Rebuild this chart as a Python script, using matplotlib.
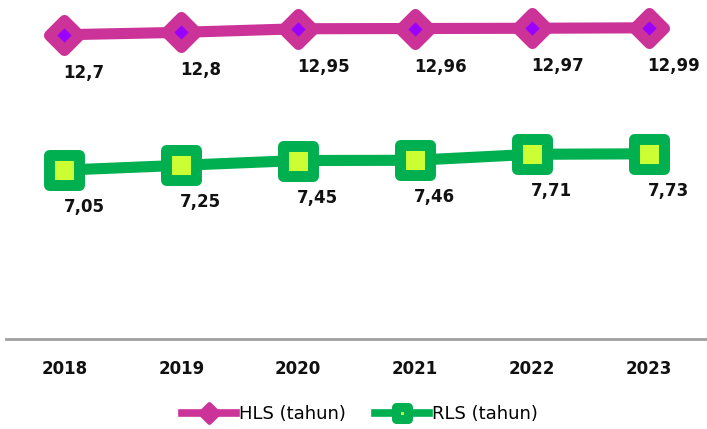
import matplotlib.pyplot as plt
from matplotlib.markers import MarkerStyle
from matplotlib.lines import Line2D

# data
years = ["2018", "2019", "2020", "2021", "2022", "2023"]
hls = [12.7, 12.8, 12.95, 12.96, 12.97, 12.99]
rls = [7.05, 7.25, 7.45, 7.46, 7.71, 7.73]

magenta = "#CC3399"
purple = "#9900FF"
green = "#00B050"
lime = "#CCFF33"

fig = plt.figure(figsize=(7.07, 4.29), dpi=100)
ax = fig.add_axes([6 / 707, 90 / 429, 701 / 707, 339 / 429])

x = list(range(len(years)))

diamond = MarkerStyle("D", joinstyle="round")
square = MarkerStyle("s", joinstyle="round")

ax.plot(x, hls, color=magenta, lw=8, solid_capstyle="round",
        marker=diamond, ms=15, mfc=purple, mec=magenta, mew=8, zorder=3)
ax.plot(x, rls, color=green, lw=8, solid_capstyle="round",
        marker=square, ms=21, mfc=lime, mec=green, mew=7.9, zorder=3)

# value labels below each point
for i, v in enumerate(hls):
    ax.annotate(("%g" % v).replace(".", ","), (i, v), xytext=(-1, -38),
                textcoords="offset pixels", ha="left", va="center",
                fontsize=12, fontweight="bold", color="#111111")
for i, v in enumerate(rls):
    ax.annotate(("%g" % v).replace(".", ","), (i, v), xytext=(-1, -37),
                textcoords="offset pixels", ha="left", va="center",
                fontsize=12, fontweight="bold", color="#111111")

ax.set_xlim(-0.5, len(years) - 0.5)
ax.set_ylim(0, 14.15)
ax.set_xticks(x)
ax.set_xticklabels(years, fontsize=12, fontweight="bold", color="#111111")
ax.set_yticks([])
ax.tick_params(axis="x", length=0, pad=15)
for s in ["top", "left", "right"]:
    ax.spines[s].set_visible(False)
ax.spines["bottom"].set_color("#A0A0A0")
ax.spines["bottom"].set_linewidth(2)

handles = [
    Line2D([], [], color=magenta, lw=5.5, marker=diamond, ms=9.5, mfc=magenta,
           mec=magenta, mew=3.5),
    Line2D([], [], color=green, lw=5.5, marker=square, ms=9, mfc=lime,
           mec=green, mew=6.5),
]
fig.legend(handles, ["HLS (tahun)", "RLS (tahun)"], loc="center",
           bbox_to_anchor=(360 / 707, 1 - 414 / 429), ncol=2, frameon=False,
           fontsize=13, handlelength=3.0, handletextpad=0.15, columnspacing=1.6)

fig.savefig("out.png", dpi=100)
